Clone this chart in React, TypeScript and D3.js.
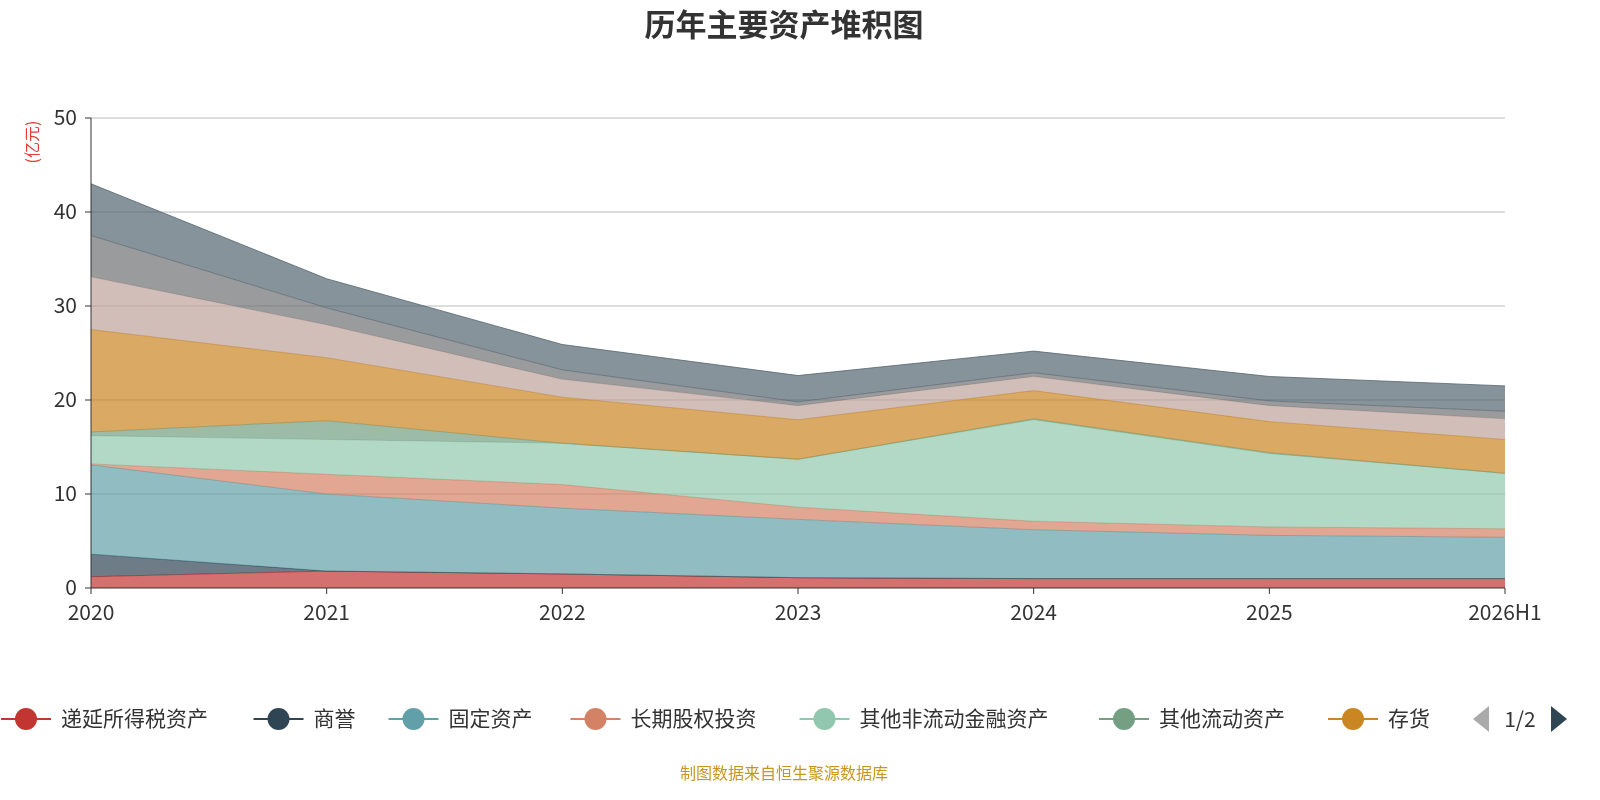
import * as d3 from 'd3';

const years = ['2020', '2021', '2022', '2023', '2024', '2025', '2026H1'];
const seriesNames = ['递延所得税资产', '商誉', '固定资产', '长期股权投资', '其他非流动金融资产', '其他流动资产', '存货', '应收账款', '预付款项', '货币资金'];
const colors = ['#c23531', '#2f4554', '#61a0a8', '#d48265', '#91c7ae', '#749f83', '#ca8622', '#bda29a', '#6e7074', '#546570'];
const values: number[][] = [
  [1.2, 1.8, 1.5, 1.1, 1.0, 1.0, 1.0],
  [2.4, 0, 0, 0, 0, 0, 0],
  [9.5, 8.2, 7.0, 6.2, 5.2, 4.6, 4.4],
  [0.1, 2.1, 2.5, 1.3, 0.9, 0.9, 0.9],
  [3.0, 3.7, 4.4, 5.1, 10.8, 7.8, 5.9],
  [0.4, 2.0, 0, 0, 0.1, 0.1, 0],
  [10.9, 6.7, 4.9, 4.2, 3.0, 3.3, 3.6],
  [5.6, 3.5, 1.9, 1.5, 1.5, 1.7, 2.2],
  [4.4, 1.8, 1.0, 0.4, 0.4, 0.5, 0.8],
  [5.5, 3.1, 2.7, 2.8, 2.3, 2.6, 2.7],
];
const yTicks = [0, 10, 20, 30, 40, 50];

export default function App() {
  const left = 91, right = 1505, top = 118, bottom = 588;
  const x = d3.scalePoint<string>().domain(years).range([left, right]);
  const y = d3.scaleLinear().domain([0, 50]).range([bottom, top]);
  const table = years.map((yr, i) => {
    const o: any = { year: yr };
    seriesNames.forEach((n, s) => (o[n] = values[s][i]));
    return o;
  });
  const stacked = d3.stack<any>().keys(seriesNames)(table);
  const area = d3.area<any>().x(d => x(d.data.year)!).y0(d => y(d[0])).y1(d => y(d[1]));
  const line = d3.line<any>().x(d => x(d.data.year)!).y(d => y(d[1]));

  let lx = 1;
  const legendItems = seriesNames.slice(0, 8).map((n, i) => {
    const item = { n, i, x: lx };
    lx += 60 + n.length * 23.5 + 28;
    return item;
  });

  return (
    <svg viewBox="0 0 1600 800" style={{ position: 'fixed', left: 0, top: 0, width: '100vw', height: '100vh', fontFamily: '"Noto Sans CJK SC", sans-serif' }}>
      <text x={784} y={36} textAnchor="middle" fontSize={31} fontWeight="bold" fill="#333">历年主要资产堆积图</text>
      {yTicks.map(t => (
        <g key={t}>
          {t > 0 && <line x1={left} x2={right} y1={y(t)} y2={y(t)} stroke="#bbb" />}
          <line x1={left - 6} x2={left} y1={y(t)} y2={y(t)} stroke="#333" />
          <text x={left - 14} y={y(t) + 7} textAnchor="end" fontSize={21} fill="#333">{t}</text>
        </g>
      ))}
      <text transform="translate(38,142) rotate(-90)" textAnchor="middle" fontSize={16} fill="#e53935">(亿元)</text>
      {stacked.map((s, i) => (
        <g key={i}>
          <path d={area(s)!} fill={colors[i]} fillOpacity={0.7} />
          <path d={line(s)!} fill="none" stroke={colors[i]} strokeWidth={1} strokeOpacity={0.8} />
        </g>
      ))}
      <line x1={left} x2={left} y1={top} y2={bottom} stroke="#333" />
      <line x1={left} x2={right} y1={bottom} y2={bottom} stroke="#333" />
      {years.map((yr, i) => (
        <g key={yr}>
          <line x1={x(yr)} x2={x(yr)} y1={bottom} y2={bottom + 6} stroke="#333" />
          <text x={x(yr)! + (i === 0 ? 0 : i === years.length - 1 ? 0 : 0)} y={bottom + 32} textAnchor="middle" fontSize={21} fill="#333">{yr}</text>
        </g>
      ))}
      <defs>
        <clipPath id="lg"><rect x={0} y={690} width={1455} height={60} /></clipPath>
      </defs>
      <g clipPath="url(#lg)">
        {legendItems.map(it => (
          <g key={it.n}>
            <line x1={it.x} x2={it.x + 50} y1={719} y2={719} stroke={colors[it.i]} strokeWidth={2} />
            <circle cx={it.x + 25} cy={719} r={11} fill={colors[it.i]} />
            <text x={it.x + 60} y={726} fontSize={21} fill="#333">{it.n}</text>
          </g>
        ))}
      </g>
      <path d="M1489,706 L1489,732 L1473,719 Z" fill="#aaa" />
      <text x={1520} y={727} textAnchor="middle" fontSize={21} fill="#333">1/2</text>
      <path d="M1551,706 L1551,732 L1567,719 Z" fill="#2f4554" />
      <text x={784} y={779} textAnchor="middle" fontSize={16} fill="#c8961e">制图数据来自恒生聚源数据库</text>
    </svg>
  );
}
